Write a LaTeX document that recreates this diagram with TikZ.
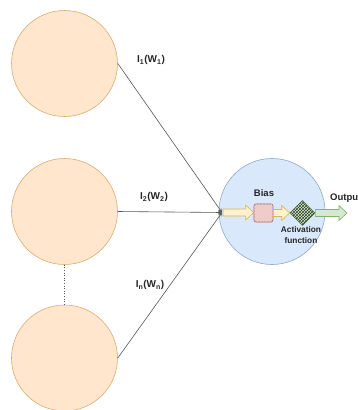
\documentclass[tikz,border=0pt]{standalone}
\usepackage{fontspec}
\setmainfont{Liberation Sans}
\usetikzlibrary{patterns,arrows.meta,shapes.geometric,calc}
\definecolor{inFill}{HTML}{FFE6CC}
\definecolor{inDraw}{HTML}{D9AE74}
\definecolor{nFill}{HTML}{DAE8FC}
\definecolor{nDraw}{HTML}{8FA8CF}
\definecolor{yFill}{HTML}{FFF2CC}
\definecolor{yDraw}{HTML}{D6B656}
\definecolor{gFill}{HTML}{D5E8D4}
\definecolor{gDraw}{HTML}{82B366}
\definecolor{pFill}{HTML}{F8CECC}
\definecolor{pDraw}{HTML}{A05A55}
\definecolor{lineGray}{HTML}{555555}
\tikzset{
  inp/.style={circle, draw=inDraw, fill=inFill, minimum size=106pt, inner sep=0pt, line width=0.6pt},
  neuron/.style={circle, draw=nDraw, fill=nFill, minimum size=106pt, inner sep=0pt, line width=0.6pt},
  wire/.style={draw=lineGray, line width=0.6pt, -{Stealth[length=4pt,width=3.5pt]}},
  lbl/.style={font=\fontsize{10}{12}\selectfont\bfseries, text=black!85},
  small/.style={font=\fontsize{8.3}{11.5}\selectfont\bfseries, text=black!85, align=center},
  yarr/.style={draw=yDraw, fill=yFill, line width=0.6pt},
  garr/.style={draw=gDraw, fill=gFill, line width=0.6pt}
}
\newcommand\blkarr[3]{%
  \draw[#1] let \p1=(#2), \p2=(#3) in
    (\x1,\y1+3.5pt) -- (\x2-8pt,\y1+3.5pt) -- (\x2-8pt,\y1+7.5pt) -- (\x2,\y1)
    -- (\x2-8pt,\y1-7.5pt) -- (\x2-8pt,\y1-3.5pt) -- (\x1,\y1-3.5pt) -- cycle;}
\begin{document}
\begin{tikzpicture}[x=1pt,y=-1pt]
\useasboundingbox (0,0) rectangle (357,410);
\node[inp] (c1) at (64.5,63.5) {};
\node[inp] (c2) at (64.5,211.5) {};
\node[inp] (c3) at (64.5,358) {};
\draw[dotted, draw=lineGray, line width=0.6pt] (c2.south) -- (c3.north);
\node[neuron] (n) at (272,211.5) {};
\coordinate (j) at (222,212.5);
\draw[wire] (c1.east) -- (j);
\draw[wire] (c2.east) -- (j);
\draw[wire] (c3.east) -- (j);
\node[lbl] (l1) at (151,60) {I$_{\mathbf 1}$(W$_{\mathbf 1}$)};
\node[lbl] (l2) at (154,197) {I$_{\mathbf 2}$(W$_{\mathbf 2}$)};
\node[lbl] (l3) at (150,285) {I$_{\mathbf n}$(W$_{\mathbf n}$)};
\node[draw=pDraw, fill=pFill, rounded corners=2pt, minimum width=19pt, minimum height=18pt, inner sep=0pt, line width=0.6pt,
  postaction={pattern=north east lines, pattern color=pDraw!35}] (bias) at (263.5,213) {};
\node[diamond, draw=gDraw!70!black, fill=gFill, minimum width=25pt, minimum height=25pt, inner sep=0pt, line width=0.6pt,
  postaction={pattern=crosshatch, pattern color=gDraw!40!black}] (act) at (302.5,213) {};
\coordinate (out) at (347,213);
\blkarr{yarr}{[xshift=1pt]j}{bias.west}
\blkarr{yarr}{bias.east}{act.west}
\blkarr{garr}{act.east}{out}
\node[lbl, font=\fontsize{9.5}{11}\selectfont\bfseries] (tb) at (264,193) {Bias};
\node[small] (ta) at (301,235) {Activation\\function};
\node[lbl, font=\fontsize{9.5}{11}\selectfont\bfseries, anchor=west, inner sep=0pt] (to) at (330,198) {Output};
\end{tikzpicture}
\end{document}
